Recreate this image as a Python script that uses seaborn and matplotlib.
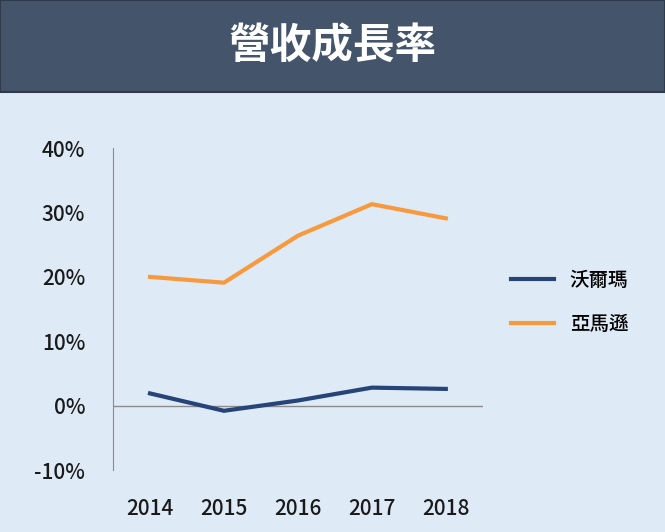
import matplotlib
matplotlib.use("Agg")
import matplotlib.pyplot as plt
import seaborn as sns
import pandas as pd
from matplotlib.patches import Rectangle

years = ["2014", "2015", "2016", "2017", "2018"]
walmart = [1.9, -0.8, 0.8, 2.8, 2.6]
amazon = [20.0, 19.1, 26.4, 31.3, 29.1]
series_names = ["沃爾瑪", "亞馬遜"]
yticks = [-10, 0, 10, 20, 30, 40]

plt.rcParams["font.family"] = ["Noto Sans CJK TC", "Noto Sans CJK JP", "Noto Sans CJK SC", "DejaVu Sans"]
bg = "#DEEAF6"
fig = plt.figure(figsize=(6.65, 5.32), dpi=100, facecolor=bg)
fig.patches.append(Rectangle((0, 0.828), 1, 0.172, transform=fig.transFigure,
                             facecolor="#44546A", edgecolor="#2F3B4C", lw=1.5, zorder=0))
fig.text(0.5, 0.914, "營收成長率", ha="center", va="center", color="white",
         fontsize=30, fontweight="bold")

ax = fig.add_axes([0.170, 0.1165, 0.556, 0.605], facecolor=bg)
df = pd.DataFrame({"year": years * 2, "value": walmart + amazon,
                   "series": [series_names[0]] * 5 + [series_names[1]] * 5})
df["x"] = list(range(5)) * 2
sns.lineplot(data=df, x="x", y="value", hue="series", palette=["#264478", "#F79A3E"],
             lw=3, ax=ax, legend=True)
ax.set_xlim(-0.5, 4.5)
ax.set_ylim(-10, 40)
ax.set_yticks(yticks)
ax.set_yticklabels([f"{v}%" for v in yticks])
ax.set_xticks(range(5))
ax.set_xticklabels(years)
ax.axhline(0, color="#8C8C8C", lw=1, zorder=1)
for s in ["top", "right", "bottom"]:
    ax.spines[s].set_visible(False)
ax.spines["left"].set_color("#8C8C8C")
ax.tick_params(length=0, labelsize=15, colors="#1a1a1a")
ax.tick_params(axis="y", pad=20)
ax.tick_params(axis="x", pad=20)
for t in ax.get_xticklabels() + ax.get_yticklabels():
    t.set_fontweight("medium")
ax.set_xlabel("")
ax.set_ylabel("")
leg = ax.legend(loc="center left", bbox_to_anchor=(1.03, 0.52), frameon=False,
                fontsize=14, labelspacing=1.3, handlelength=2.2)
for t in leg.get_texts():
    t.set_fontweight("medium")
fig.savefig("out.png", dpi=100, facecolor=bg)
